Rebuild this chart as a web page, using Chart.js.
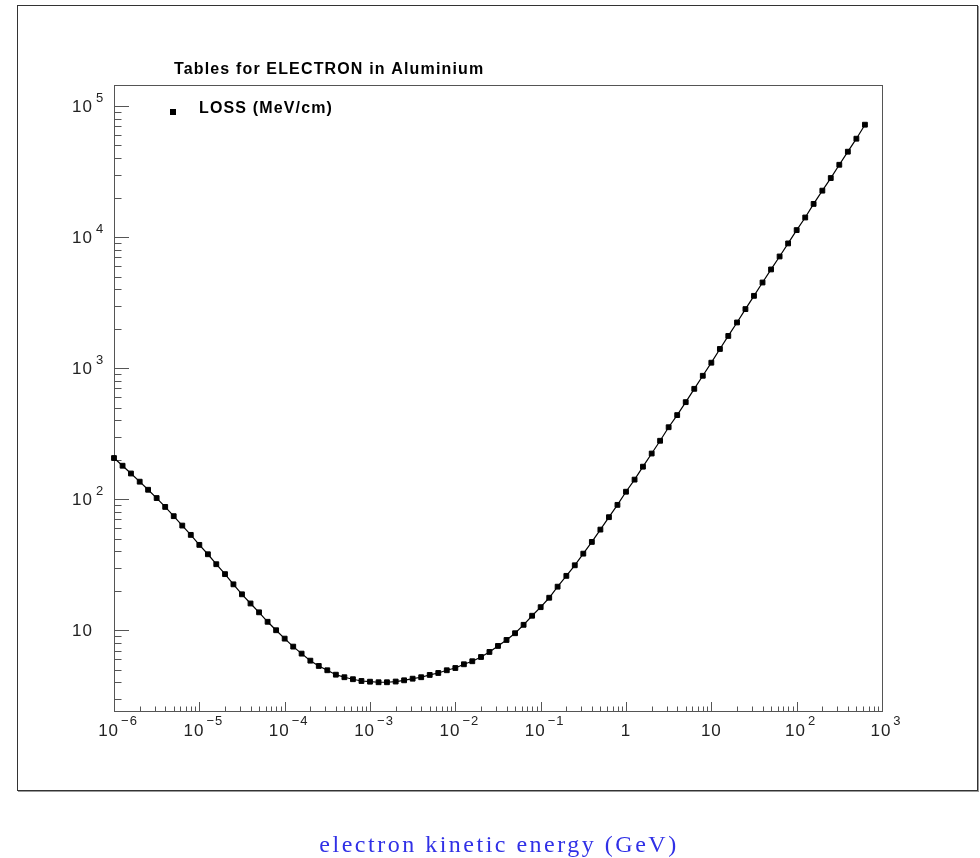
<!DOCTYPE html>
<html>
<head>
<meta charset="utf-8">
<script src="https://cdn.jsdelivr.net/npm/chart.js@4"></script>
<style>
body{margin:0;background:#fff;}
#wrap{position:relative;width:980px;height:858px;}
#frame{position:absolute;left:17px;top:5px;width:959px;height:784px;border:1px solid #333;box-shadow:1px 1px 0 #999;}
#chart{position:absolute;left:0;top:0;}
#caption{position:absolute;left:0;top:831px;width:998px;text-align:center;
font-family:"Liberation Serif",serif;font-size:24px;letter-spacing:2.5px;color:#3030e6;}
</style>
</head>
<body>
<div id="wrap">
<div id="frame"></div>
<canvas id="chart" width="980" height="858"></canvas>
<div id="caption">electron kinetic energy (GeV)</div>
</div>
<script>
/* -------- DATA -------- */

const energyGeV = [
1.00e-6,1.26e-6,1.58e-6,2.00e-6,2.51e-6,3.16e-6,3.98e-6,5.01e-6,6.31e-6,7.94e-6,
1.00e-5,1.26e-5,1.58e-5,2.00e-5,2.51e-5,3.16e-5,3.98e-5,5.01e-5,6.31e-5,7.94e-5,
1.00e-4,1.26e-4,1.58e-4,2.00e-4,2.51e-4,3.16e-4,3.98e-4,5.01e-4,6.31e-4,7.94e-4,
1.00e-3,1.26e-3,1.58e-3,2.00e-3,2.51e-3,3.16e-3,3.98e-3,5.01e-3,6.31e-3,7.94e-3,
1.00e-2,1.26e-2,1.58e-2,2.00e-2,2.51e-2,3.16e-2,3.98e-2,5.01e-2,6.31e-2,7.94e-2,
1.00e-1,1.26e-1,1.58e-1,2.00e-1,2.51e-1,3.16e-1,3.98e-1,5.01e-1,6.31e-1,7.94e-1,
1.00,1.26,1.58,2.00,2.51,3.16,3.98,5.01,6.31,7.94,
10.0,12.6,15.8,20.0,25.1,31.6,39.8,50.1,63.1,79.4,
100,126,158,200,251,316,398,501,631
];

const lossMeVcm = [
206,180,157,136,118,102,87.3,74.2,62.9,53.4,
44.8,38.0,31.9,26.8,22.4,18.8,16.0,13.7,11.6,10.0,
8.63,7.50,6.63,5.86,5.34,4.95,4.58,4.38,4.23,4.10,
4.05,4.01,4.01,4.06,4.15,4.27,4.38,4.56,4.72,4.95,
5.15,5.50,5.80,6.25,6.83,7.59,8.43,9.49,11.0,12.9,
15.0,17.7,21.5,26.0,31.3,38.4,47.2,58.6,72.9,90.5,
114,141,177,223,279,354,438,550,695,874,
1100,1400,1760,2230,2820,3560,4500,5660,7110,8940,
11300,14100,17900,22600,28200,35600,44800,56300,72000
];

const xTickValues = [1e-6,1e-5,1e-4,1e-3,1e-2,1e-1,1,10,100,1000];
const xTickLabels = ["10^−6","10^−5","10^−4","10^−3","10^−2","10^−1","1","10","10^2","10^3"];
const yTickValues = [10,100,1000,10000,100000];
const yTickLabels = ["10","10^2","10^3","10^4","10^5"];

const titleText = "Tables for ELECTRON in Aluminium";
const legendText = "LOSS (MeV/cm)";

const points = energyGeV.map((e,i)=>({x:e,y:lossMeVcm[i]}));

/* -------- ROOT STYLE FRAME, TICKS, LABELS -------- */

const baseFont = "17px 'Liberation Sans', Arial, sans-serif";
const expFont = "13px 'Liberation Sans', Arial, sans-serif";

function minorValues(decades, scale){
let out = [];
decades.forEach(d=>{
for(let m=1;m<=9;m++){
const v = m*d;
if(v >= scale.min*0.9999 && v <= scale.max*1.0001) out.push({v:v, major:m===1});
}
});
return out;
}

function drawXLabel(ctx, text, x, y){
const parts = text.split("^");
ctx.letterSpacing = "1px";
ctx.font = baseFont;
const wb = ctx.measureText(parts[0]).width;
let we = 0;
if(parts[1]){
ctx.font = expFont;
we = ctx.measureText(parts[1]).width + 2;
}
const left = x - (wb + we)/2 + (parts[1] ? 4 : 0);
ctx.textBaseline = "middle";
ctx.textAlign = "left";
ctx.font = baseFont;
ctx.fillText(parts[0], left, y);
if(parts[1]){
ctx.font = expFont;
ctx.fillText(parts[1], left + wb + 2, y - 10);
}
}

const rootAxes = {
id:"rootAxes",
beforeDatasetsDraw(chart){
const {ctx, chartArea:a, scales:{x, y}} = chart;
ctx.save();
ctx.strokeStyle = "#555";
ctx.lineWidth = 1;
ctx.strokeRect(Math.round(a.left)+0.5, Math.round(a.top)+0.5, Math.round(a.right-a.left), Math.round(a.bottom-a.top));

// x ticks, pointing up from the bottom edge
minorValues([1e-7].concat(xTickValues), x).forEach(t=>{
const px = Math.round(x.getPixelForValue(t.v))+0.5;
const len = t.major ? 9 : 4.5;
ctx.beginPath();
ctx.moveTo(px, a.bottom);
ctx.lineTo(px, a.bottom-len);
ctx.stroke();
});

// y ticks, pointing right from the left edge
minorValues([1].concat(yTickValues), y).forEach(t=>{
const py = Math.round(y.getPixelForValue(t.v))+0.5;
const len = t.major ? 15 : 7.5;
ctx.beginPath();
ctx.moveTo(a.left, py);
ctx.lineTo(a.left+len, py);
ctx.stroke();
});
ctx.restore();
},
afterDraw(chart){
const {ctx, chartArea:a, scales:{x, y}} = chart;
ctx.save();
ctx.fillStyle = "#222";

xTickValues.forEach((v,i)=>{
drawXLabel(ctx, xTickLabels[i], x.getPixelForValue(v), a.bottom+20);
});
ctx.letterSpacing = "1px";
yTickValues.forEach((v,i)=>{
const py = y.getPixelForValue(v);
const parts = yTickLabels[i].split("^");
ctx.font = baseFont;
ctx.textAlign = "right";
ctx.textBaseline = "middle";
ctx.fillText(parts[0], 93, py+1);
if(parts[1]){
ctx.font = expFont;
ctx.textAlign = "left";
ctx.fillText(parts[1], 96, py-8);
}
});

// title
ctx.fillStyle = "#000";
ctx.textAlign = "left";
ctx.textBaseline = "alphabetic";
ctx.font = "bold 16px 'Liberation Sans', Arial, sans-serif";
ctx.letterSpacing = "1.15px";
ctx.fillText(titleText, 174, 74);

// legend
ctx.fillRect(170, 109, 6, 6);
ctx.fillText(legendText, 199, 113);
ctx.restore();
}
};

/* -------- CHART -------- */

const ctx = document.getElementById("chart").getContext("2d");

new Chart(ctx,{
type:"line",
data:{
datasets:[{
label:legendText,
data:points,
borderColor:"#000",
borderWidth:1.2,
backgroundColor:"#000",
pointStyle:"rect",
pointRadius:3.4,
pointBorderWidth:1,
pointBorderColor:"#000",
pointBackgroundColor:"#000",
tension:0,
fill:false,
clip:false
}]
},
options:{
responsive:false,
animation:false,
devicePixelRatio:1,
layout:{padding:{left:114,top:85,right:98,bottom:147}},
scales:{
x:{type:"logarithmic",min:1e-6,max:1e3,display:false},
y:{type:"logarithmic",min:2.42,max:1.446e5,display:false}
},
plugins:{
legend:{display:false},
tooltip:{enabled:false}
}
},
plugins:[rootAxes]
});
</script>
</body>
</html>
